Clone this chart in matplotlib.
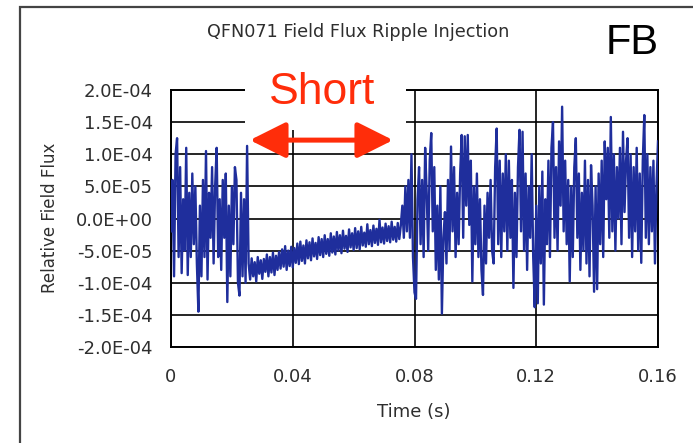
import numpy as np
import matplotlib
matplotlib.use("Agg")
import matplotlib.pyplot as plt
from matplotlib.patches import Rectangle
from matplotlib.ticker import FixedLocator, FuncFormatter

# ---- data (relative flux in units of 1e-5) ----
seg_before = [
    -2, 6, -9, 10, 12.5, -6, 8, -8.5, 3, -5,
    11, -8.8, 4, -6, 7, -4, 5, -7, -14.5, 2,
    -9, 6, -6, 10.5, -9.5, 4, -3, 8, -7, 5,
    11, -6, 3, -8, 6, -3, 7, -13, 2, -9,
    5, -4, 8, 6, -10, -12, 4, -9, 3, -10,
    11.3, -7,
]
seg_short = [
    -9.5, -6.2, -9.0, -6.8, -9.8, -6.0, -8.6, -6.5, -9.4, -6.3,
    -8.3, -5.6, -9.0, -6.0, -8.4, -5.3, -8.8, -5.8, -8.0, -5.2,
    -7.8, -4.8, -7.5, -4.3, -8.0, -5.0, -7.4, -4.4, -7.6, -4.6,
    -6.9, -3.9, -7.1, -3.6, -6.6, -4.2, -7.0, -3.4, -6.2, -3.7,
    -6.5, -3.1, -5.9, -3.8, -6.3, -2.9, -5.7, -3.2, -6.0, -2.6,
    -5.5, -3.2, -5.8, -2.3, -5.3, -2.8, -5.6, -2.1, -5.0, -2.6,
    -5.4, -1.9, -4.7, -2.7, -5.2, -1.7, -4.5, -2.3, -4.9, -1.5,
    -4.6, -2.0, -4.8, -1.3, -4.2, -2.2, -4.4, -0.9, -4.0, -1.8,
    -4.3, -1.1, -3.8, -1.6, -4.1, -0.2, -3.7, -1.4, -3.9, -0.8,
    -3.5, -1.2, -3.7, -0.5, -3.3, -1.3, -3.6, -0.7, -3.2, -1.1,
]
seg_after = [
    2, -3, 5, -2, 6, -3, 10, -6, -11.5, -12.5,
    3, 8, -4, 6, -6, 11, 4, -5, 9, 13.3,
    -2, 8, -8, 2, -9.5, 5, -14.8, -3, 1, -7,
    6, -5, 11.2, -2, 8, -6, 4, -4, 7, 13,
    -3, 12.8, 2, 13, -1, 9, -9.8, 5, -4, 7,
    -6, 3, -8, -11.9, 2, -7, 4, -3, 6, -5,
    -7, 8, 14, -4, 9, -6, 7, -2, 10, -5,
    9, -3, 6, -10.8, 4, -6, 8, 13.8, -2, 13.5,
    -5, 7, -8, 5, -3, 10, -6, -13.8, 2, -13.2,
    5, -7, 7.3, -13.4, 3, -4, 9, -6, 11, 15,
    -3, 8, -5, 12, 2, 17.4, -2, 9, -4, 6,
    -9.8, 5, -6, 8, 12.5, -3, 7, -8, 4, -5,
    9, -7, 6, -9, 8.3, 2, -11.4, 5, -11, 7,
    -4, 9, -6, 12, 3, 11, -3, 15.8, -2, 10,
    -5, 8, 0, 11, -4, 13.5, 1, 9, 12.5, -3,
    10, -6, 8, -2, 11, -5, 7, -6.9, 9, 16.1,
    -3, 10, -4, 8, -2, 9, -7, 5, 12,
]
flux = np.array(seg_before + seg_short + seg_after) * 1e-5
t_start, t_end = 0.0, 0.16
time = np.linspace(t_start, t_end, len(flux))

x_ticks = [0, 0.04, 0.08, 0.12, 0.16]
x_tick_labels = ["0", "0.04", "0.08", "0.12", "0.16"]
y_ticks = [-2e-4, -1.5e-4, -1e-4, -5e-5, 0, 5e-5, 1e-4, 1.5e-4, 2e-4]

title = "QFN071 Field Flux Ripple Injection"
xlabel = "Time (s)"
ylabel = "Relative Field Flux"

# ---- figure ----
W, H = 693, 443
fig = plt.figure(figsize=(W / 100, H / 100), dpi=100)
fig.patch.set_facecolor("white")

# outer border (left & top visible)
fig.add_artist(Rectangle((20 / W, -0.05), 1.1, 1 - 7 / H + 0.05,
                         transform=fig.transFigure, fill=False,
                         edgecolor="#444444", linewidth=1.6))

ax = fig.add_axes([171 / W, 1 - 347 / H, (658 - 171) / W, (347 - 90) / H])
ax.plot(time, flux, color="#1f2e9c", linewidth=1.7, zorder=3)

ax.set_xlim(0, 0.16)
ax.set_ylim(-2e-4, 2e-4)
ax.xaxis.set_major_locator(FixedLocator(x_ticks))
ax.set_xticklabels(x_tick_labels)
ax.yaxis.set_major_locator(FixedLocator(y_ticks))
ax.yaxis.set_major_formatter(FuncFormatter(lambda v, p: f"{v:.1E}"))
ax.grid(True, color="black", linewidth=1.2, zorder=1)
ax.set_axisbelow(True)
for s in ax.spines.values():
    s.set_linewidth(1.4)
    s.set_color("black")

txt_col = "#2e2e2e"
ax.tick_params(axis="both", length=0, labelsize=13, colors=txt_col)
ax.tick_params(axis="x", pad=15)
ax.tick_params(axis="y", pad=13)

fig.text(358 / W, 1 - 32 / H, title, ha="center", va="center",
         fontsize=12.7, color=txt_col)
fig.text(414 / W, 1 - 412 / H, xlabel, ha="center", va="center",
         fontsize=13, color=txt_col)
fig.text(50 / W, 1 - 218 / H, ylabel, ha="center", va="center",
         rotation=90, fontsize=12, color=txt_col)

# white box hiding grid behind "Short"
ax.add_patch(Rectangle((0.152, 0.845), 0.33, 0.2, transform=ax.transAxes,
                       facecolor="white", edgecolor="none", zorder=4,
                       clip_on=False))
ax.text(0.31, 0.99, "Short", transform=ax.transAxes, ha="center",
        va="center", fontsize=32, color="#ff2d0a",
        family="Liberation Sans", zorder=5)
ax.annotate("", xy=(0.456, 0.805), xytext=(0.162, 0.805),
            xycoords="axes fraction", textcoords="axes fraction",
            arrowprops=dict(arrowstyle="<|-|>,head_length=1.1,head_width=0.55",
                            mutation_scale=20, color="#ff2d0a", lw=3.6,
                            shrinkA=0, shrinkB=0),
            zorder=6)

fig.text(632 / W, 1 - 43 / H, "FB", ha="center", va="center",
         fontsize=30, color="black", family="Liberation Sans")

fig.savefig("out.png", dpi=100, facecolor="white")
